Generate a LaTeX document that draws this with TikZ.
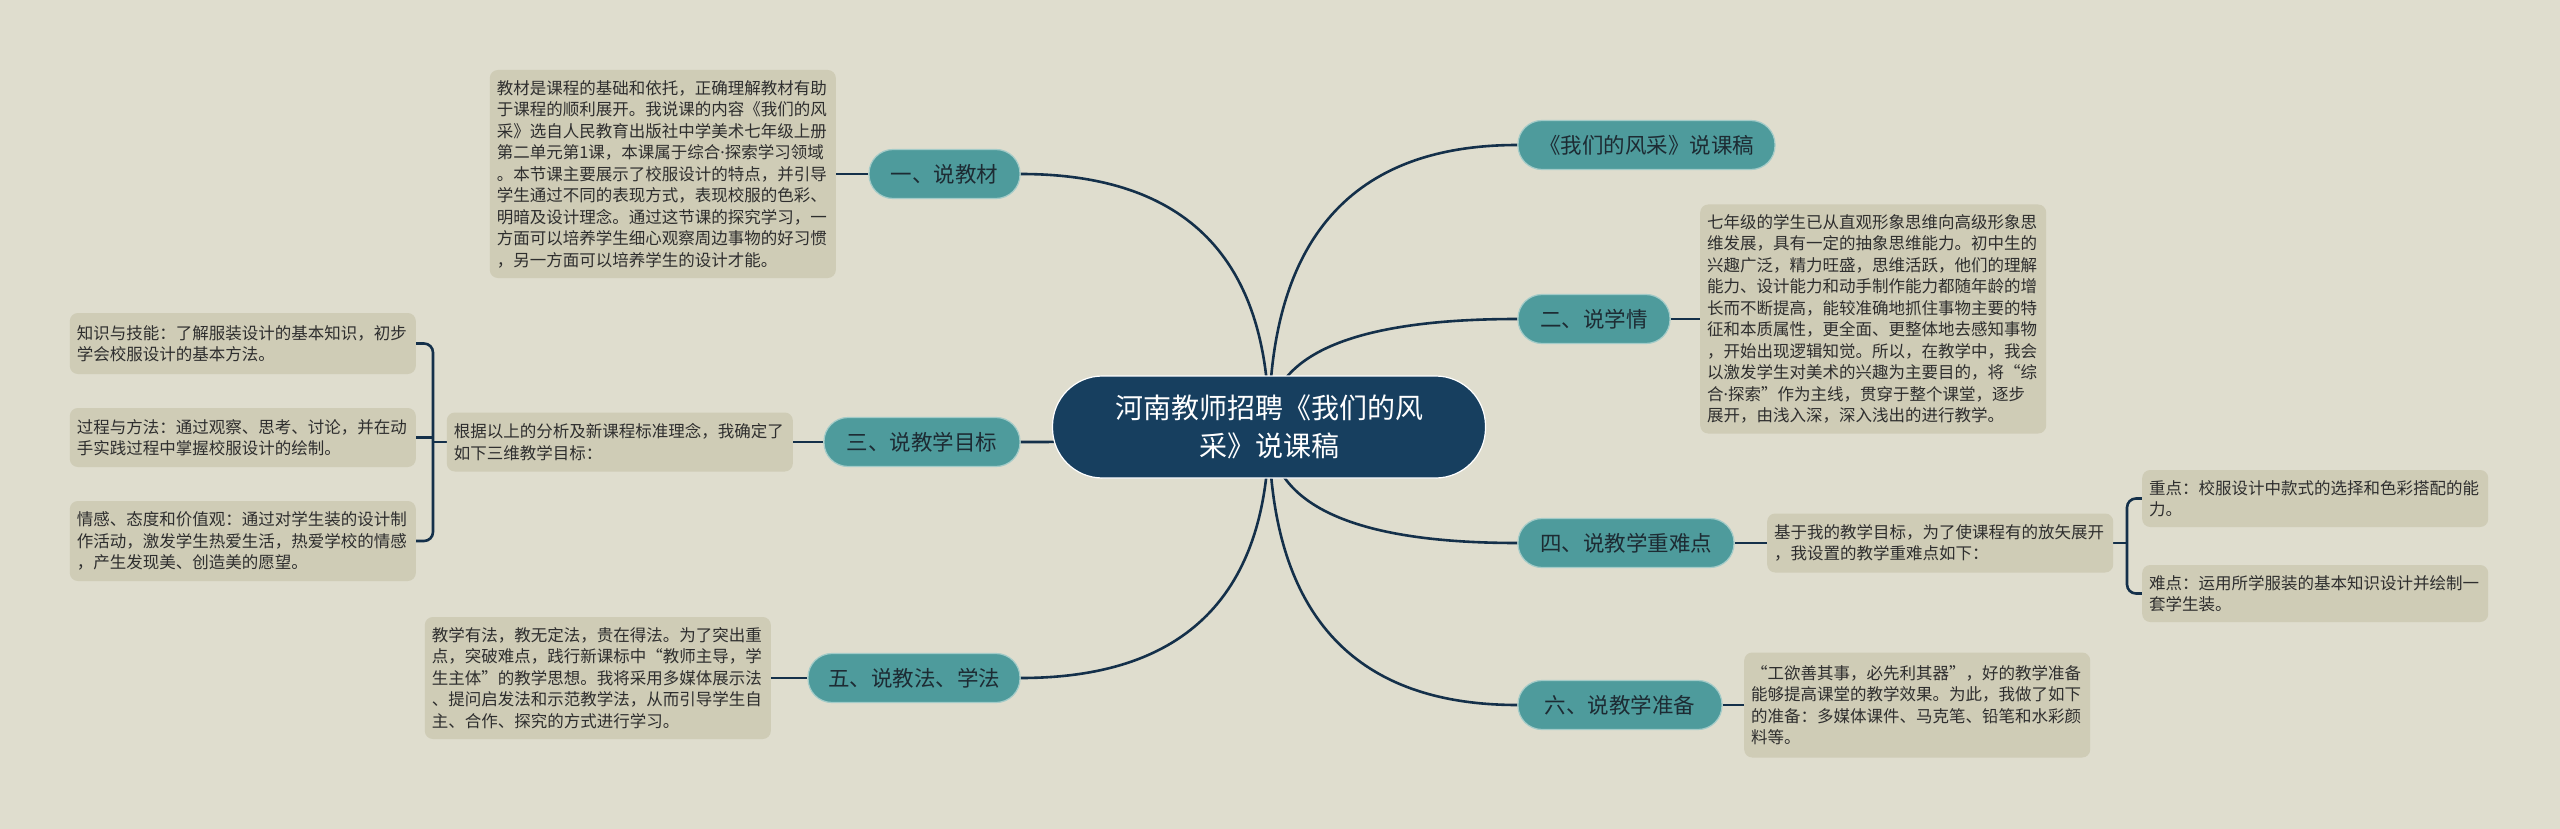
\documentclass[tikz,border=0pt]{standalone}
\usepackage{fontspec}
\setmainfont{Noto Sans CJK SC}
\newfontfamily\latinf{Noto Sans}
\usetikzlibrary{calc,backgrounds}
\definecolor{bg}{HTML}{DFDDCE}
\definecolor{boxfill}{HTML}{CFCCB6}
\definecolor{tealc}{HTML}{4E9B9C}
\definecolor{bord}{HTML}{A3CBC8}
\definecolor{navy}{HTML}{173F5F}
\definecolor{linec}{HTML}{14304A}
\definecolor{txt}{HTML}{2E2E2E}
\definecolor{btxt}{HTML}{1D2B33}
\tikzset{
  conn/.style={draw=linec, line width=2.6pt},
  textbox/.style={fill=boxfill, rounded corners=8pt, text width=332pt, inner xsep=7pt, inner ysep=5pt, align=left, text=txt, font=\fontsize{16.5}{21.5}\selectfont},
  branch/.style={fill=tealc, draw=bord, line width=1.2pt, rounded corners=24pt, minimum height=49pt, text=btxt, inner xsep=0pt, font=\fontsize{21.5}{24}\selectfont},
  root/.style={fill=navy, draw=white, line width=1.2pt, rounded corners=50pt, minimum width=433pt, minimum height=102pt, text=white, align=center, font=\fontsize{28}{38}\selectfont}
}
\newcommand\qcurve[2]{\draw[conn] (c.center) .. controls ($(c.center)!0.6667!(c.center|-#1.#2)$) and ($(#1.#2)!0.6667!(c.center|-#1.#2)$) .. (#1.#2);}
\newcommand\mdot{{\latinf ·}}
\begin{document}
\begin{tikzpicture}[x=1pt,y=-1pt]
\begin{scope}[on background layer]
\fill[bg] (0,0) rectangle (2560,829);
\end{scope}
\useasboundingbox (0,0) rectangle (2560,829);

\node[root] (c) at (1269,427) {河南教师招聘《我们的风\\采》说课稿};

\node[branch, minimum width=257pt] (bA) at (1646.5,145) {《我们的风采》说课稿};
\node[branch, minimum width=152pt] (b2) at (1594,319) {二、说学情};
\node[branch, minimum width=216pt] (b4) at (1626,543) {四、说教学重难点};
\node[branch, minimum width=204pt] (b6) at (1620,705) {六、说教学准备};
\node[branch, minimum width=151pt] (b1) at (944.5,174) {一、说教材};
\node[branch, minimum width=196pt] (b3) at (922,442) {三、说教学目标};
\node[branch, minimum width=212pt] (b5) at (914,678) {五、说教法、学法};

\node[textbox, minimum height=208pt, anchor=east] (t1) at (836,174) {教材是课程的基础和依托，正确理解教材有助\\于课程的顺利展开。我说课的内容《我们的风\\采》选自人民教育出版社中学美术七年级上册\\第二单元第1课，本课属于综合\mdot 探索学习领域\\。本节课主要展示了校服设计的特点，并引导\\学生通过不同的表现方式，表现校服的色彩、\\明暗及设计理念。通过这节课的探究学习，一\\方面可以培养学生细心观察周边事物的好习惯\\，另一方面可以培养学生的设计才能。};
\node[textbox, minimum height=229pt, anchor=west] (t2) at (1700,319) {七年级的学生已从直观形象思维向高级形象思\\维发展，具有一定的抽象思维能力。初中生的\\兴趣广泛，精力旺盛，思维活跃，他们的理解\\能力、设计能力和动手制作能力都随年龄的增\\长而不断提高，能较准确地抓住事物主要的特\\征和本质属性，更全面、更整体地去感知事物\\，开始出现逻辑知觉。所以，在教学中，我会\\以激发学生对美术的兴趣为主要目的，将“综\\合\mdot 探索”作为主线，贯穿于整个课堂，逐步\\展开，由浅入深，深入浅出的进行教学。};
\node[textbox, minimum height=59pt, anchor=east] (t3) at (793,442) {根据以上的分析及新课程标准理念，我确定了\\如下三维教学目标：};
\node[textbox, minimum height=61pt, anchor=east] (s1) at (416,343.5) {知识与技能：了解服装设计的基本知识，初步\\学会校服设计的基本方法。};
\node[textbox, minimum height=59pt, anchor=east] (s2) at (416,437.5) {过程与方法：通过观察、思考、讨论，并在动\\手实践过程中掌握校服设计的绘制。};
\node[textbox, minimum height=80pt, anchor=east] (s3) at (416,541) {情感、态度和价值观：通过对学生装的设计制\\作活动，激发学生热爱生活，热爱学校的情感\\，产生发现美、创造美的愿望。};
\node[textbox, minimum height=59pt, anchor=west] (t4) at (1767,543) {基于我的教学目标，为了使课程有的放矢展开\\，我设置的教学重难点如下：};
\node[textbox, minimum height=57pt, anchor=west] (z1) at (2142,498.5) {重点：校服设计中款式的选择和色彩搭配的能\\力。};
\node[textbox, minimum height=57pt, anchor=west] (z2) at (2142,593.5) {难点：运用所学服装的基本知识设计并绘制一\\套学生装。};
\node[textbox, minimum height=122pt, anchor=east] (t5) at (771,678) {教学有法，教无定法，贵在得法。为了突出重\\点，突破难点，践行新课标中“教师主导，学\\生主体”的教学思想。我将采用多媒体展示法\\、提问启发法和示范教学法，从而引导学生自\\主、合作、探究的方式进行学习。};
\node[textbox, minimum height=105pt, anchor=west] (t6) at (1744,705) {“工欲善其事，必先利其器”，好的教学准备\\能够提高课堂的教学效果。为此，我做了如下\\的准备：多媒体课件、马克笔、铅笔和水彩颜\\料等。};

\coordinate (j3) at (433,442);
\coordinate (j4) at (2127,543);

\begin{scope}[on background layer]
\qcurve{bA}{west}
\qcurve{b2}{west}
\qcurve{b4}{west}
\qcurve{b6}{west}
\qcurve{b1}{east}
\qcurve{b3}{east}
\qcurve{b5}{east}
\draw[conn] (b1.west) -- (t1.east);
\draw[conn] (b2.east) -- (t2.west);
\draw[conn] (b3.west) -- (t3.east);
\draw[conn] (b4.east) -- (t4.west);
\draw[conn] (b5.west) -- (t5.east);
\draw[conn] (b6.east) -- (t6.west);
\draw[conn, rounded corners=9pt] (s1.east) -| (j3) |- (s3.east);
\draw[conn] (s2.east) -- (s2.east -| j3);
\draw[conn] (j3) -- (t3.west);
\draw[conn, rounded corners=9pt] (z1.west) -| (j4) |- (z2.west);
\draw[conn] (t4.east) -- (j4);
\end{scope}
\end{tikzpicture}
\end{document}
